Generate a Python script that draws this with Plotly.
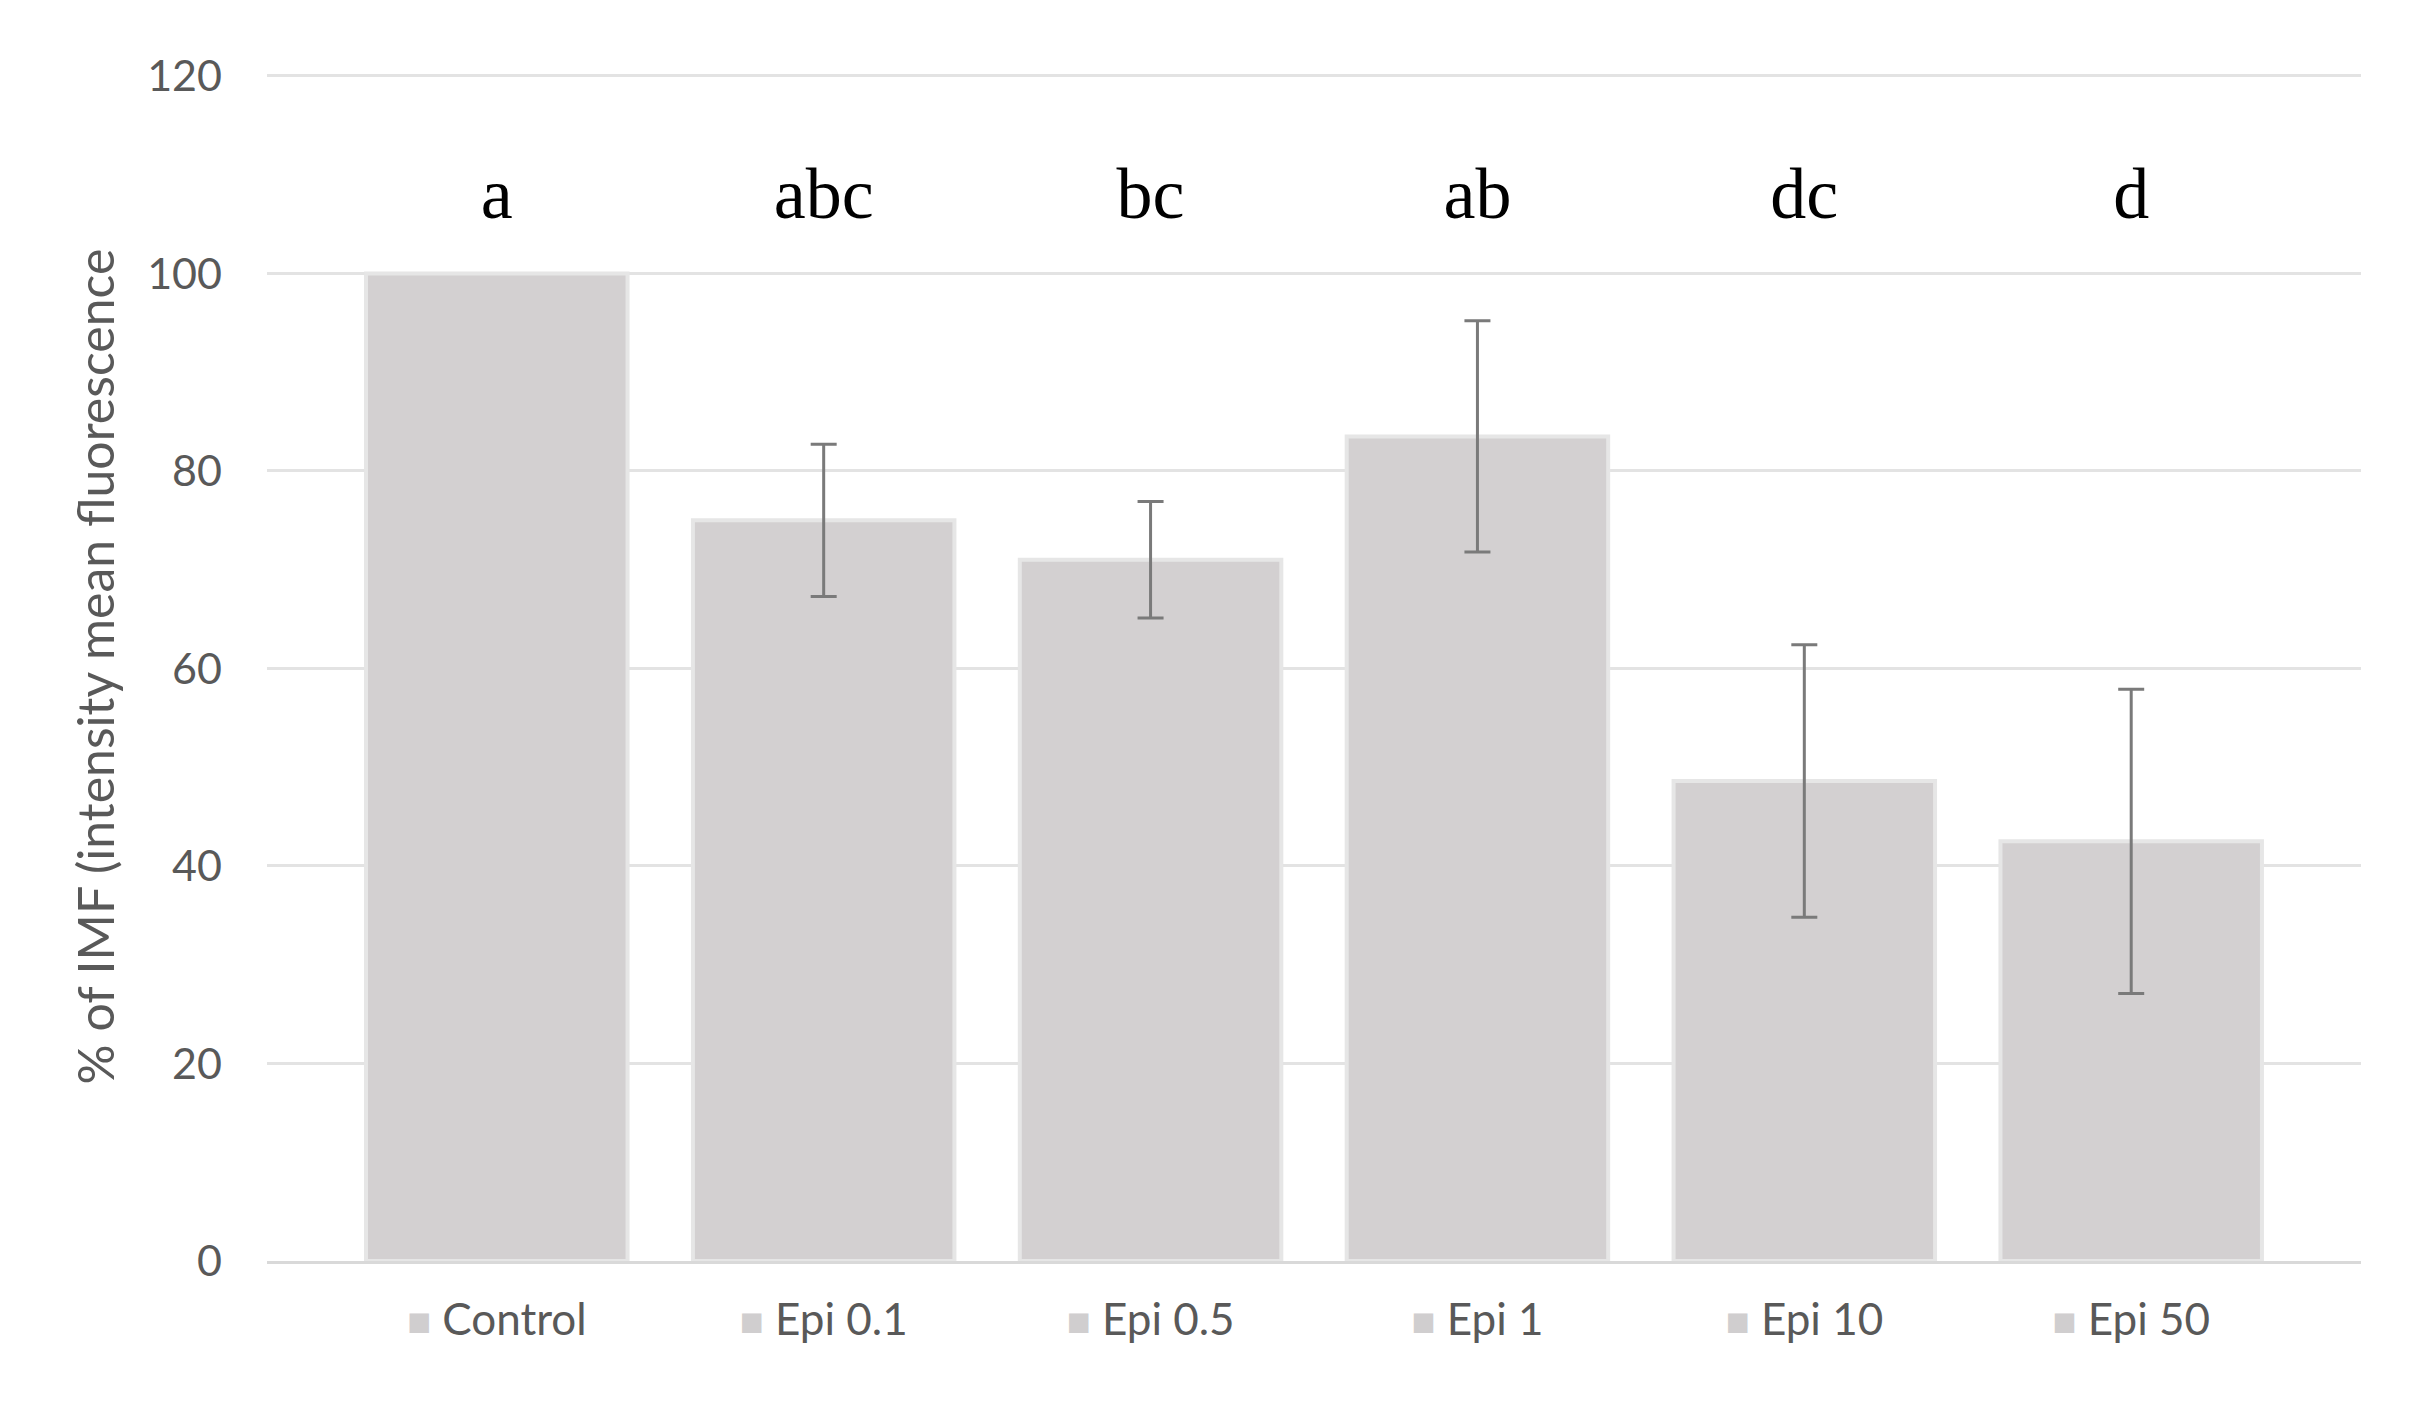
import plotly.graph_objects as go

categories = ["Control", "Epi 0.1", "Epi 0.5", "Epi 1", "Epi 10", "Epi 50"]
means = [100, 75.0, 71.0, 83.5, 48.6, 42.5]
errors = [0, 7.7, 5.9, 11.7, 13.8, 15.4]
letters = ["a", "abc", "bc", "ab", "dc", "d"]
letter_y = [107.4, 107.4, 107.4, 107.4, 107.4, 107.4]
y_ticks = [0, 20, 40, 60, 80, 100, 120]

BAR = "#d3d0d1"
EDGE = "#e6e6e6"
TXT = "#595959"

ticktext = [
    f'<span style="color:#d0cecf;font-size:40px">■</span> {c}' for c in categories
]

fig = go.Figure()
# Control bar (no error bar)
fig.add_trace(go.Bar(
    x=categories[:1], y=means[:1], width=0.8,
    marker=dict(color=BAR, line=dict(color=EDGE, width=4)),
    showlegend=False,
))
# Treatment bars with error bars
fig.add_trace(go.Bar(
    x=categories[1:], y=means[1:], width=0.8,
    marker=dict(color=BAR, line=dict(color=EDGE, width=4)),
    error_y=dict(type="data", array=errors[1:], visible=True,
                 color="#7a7a7a", thickness=3, width=13),
    showlegend=False,
))
fig.add_trace(go.Scatter(
    x=categories, y=letter_y, mode="text", text=letters,
    textfont=dict(family="Liberation Serif, serif", size=72, color="#000000"),
    showlegend=False, hoverinfo="skip",
))

fig.update_layout(
    width=2417, height=1417,
    paper_bgcolor="white", plot_bgcolor="white",
    margin=dict(l=259, r=64, t=64, b=164),
    font=dict(family="Lato, Open Sans, sans-serif", color=TXT, size=42),
    barmode="overlay",
)
fig.update_xaxes(
    range=[-0.703, 5.703],
    tickmode="array", tickvals=categories, ticktext=ticktext,
    tickfont=dict(size=44, color=TXT),
    showgrid=False, showline=True, linecolor="#d9d9d9", linewidth=3,
    ticks="", ticklabelstandoff=18,
)
fig.update_yaxes(
    range=[0, 120.4], tickvals=y_ticks,
    showgrid=True, gridcolor="#e3e3e3", gridwidth=3,
    zeroline=False, showline=False, ticks="",
    tickfont=dict(size=43, color=TXT), ticklabelstandoff=44,
    title=dict(text="% of IMF (intensity mean fluorescence",
               font=dict(size=50, color=TXT), standoff=16),
)

fig.write_html("out.html")
